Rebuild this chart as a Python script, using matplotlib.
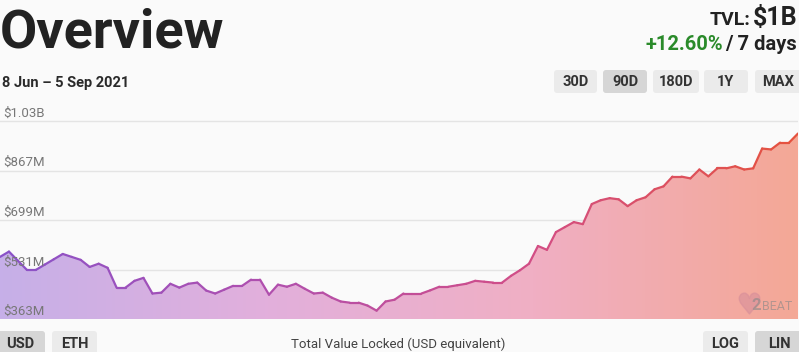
import numpy as np
import matplotlib.pyplot as plt
from matplotlib.collections import LineCollection
from matplotlib.colors import LinearSegmentedColormap
from matplotlib.patches import FancyBboxPatch, Polygon

plt.rcParams['font.family'] = ['Roboto', 'DejaVu Sans']

# TVL in million USD, one value per day, 8 Jun - 5 Sep 2021
tvl = [575, 593, 562, 531, 531, 549, 567, 585, 575, 565,
       541, 552, 538, 471, 471, 494, 504, 451, 454, 484,
       471, 484, 488, 461, 451, 464, 477, 477, 498, 498,
       447, 481, 474, 484, 467, 451, 454, 437, 424, 420,
       420, 410, 393, 424, 430, 451, 451, 451, 462, 474,
       474, 479, 484, 494, 491, 488, 488, 511, 530, 552,
       612, 599, 659, 676, 693, 686, 754, 767, 774, 770,
       747, 767, 777, 804, 814, 847, 847, 841, 871, 848,
       875, 875, 882, 871, 875, 942, 939, 962, 962, 993]
days = np.arange(len(tvl))

tick_vals = [363, 531, 699, 867, 1035]
tick_labels = ['$363M', '$531M', '$699M', '$867M', '$1.03B']

ranges = ['30D', '90D', '180D', '1Y', 'MAX']
range_sel = '90D'
units = ['USD', 'ETH']
scales = ['LOG', 'LIN']

W, H = 799, 352
fig = plt.figure(figsize=(W / 100, H / 100), dpi=100)
fig.patch.set_facecolor('#fafafa')

# chart area
ax = fig.add_axes([0, (H - 319.5) / H, 798 / W, 214.5 / H])
ax.set_facecolor('none')
ymin, ymax = 363, 363 + (319.5 - 105) / 49.6 * 168
ax.set_xlim(0, days[-1])
ax.set_ylim(ymin, ymax)
for s in ax.spines.values():
    s.set_visible(False)
ax.set_xticks([])
ax.set_yticks([])

for v in tick_vals[1:]:
    ax.axhline(v, color='#e4e4e4', lw=1, zorder=0)

# gradient fill under the line
fill_cmap = LinearSegmentedColormap.from_list(
    'fill', ['#c6afe8', '#e2afdc', '#f0afc4', '#f4a896'])
grad = np.linspace(0, 1, 256).reshape(1, -1)
img = ax.imshow(grad, cmap=fill_cmap, aspect='auto', zorder=1,
                extent=[0, days[-1], ymin, ymax], origin='lower')
poly = Polygon(np.column_stack([np.r_[days, days[-1], 0],
                                np.r_[tvl, ymin, ymin]]),
               closed=True, transform=ax.transData)
img.set_clip_path(poly)

# gradient line
line_cmap = LinearSegmentedColormap.from_list(
    'line', ['#8a52c8', '#b04fae', '#d24e86', '#e5523e'])
pts = np.column_stack([days, tvl]).reshape(-1, 1, 2)
segs = np.concatenate([pts[:-1], pts[1:]], axis=1)
lc = LineCollection(segs, cmap=line_cmap, linewidths=1.6, zorder=3,
                    capstyle='round', joinstyle='round')
lc.set_array(days[:-1] / days[-1])
ax.add_collection(lc)

for v, lab in zip(tick_vals, tick_labels):
    ax.annotate(lab, (0, v), xytext=(2, 1), textcoords='offset points',
                ha='left', va='bottom', fontsize=9.5, color='#777777', zorder=4)

# overlay in pixel coordinates for titles and buttons
ov = fig.add_axes([0, 0, 1, 1])
ov.set_xlim(0, W)
ov.set_ylim(H, 0)
ov.axis('off')
ov.set_facecolor('none')

ov.text(0, 48, 'Overview', fontsize=39, fontweight='bold', color='#222222',
        ha='left', va='baseline')
ov.text(2, 87, '8 Jun \u2013 5 Sep 2021', fontsize=10.5, fontweight='bold',
        color='#2a2a2a', ha='left', va='baseline')

ov.text(797, 25, '$1B', fontsize=18, fontweight='bold', color='#222222',
        ha='right', va='baseline')
ov.text(750, 25, 'TVL:', fontsize=14, fontweight='bold', color='#222222',
        ha='right', va='baseline')
ov.text(797, 50, '/ 7 days', fontsize=14.5, fontweight='bold', color='#222222',
        ha='right', va='baseline')
ov.text(723, 50, '+12.60%', fontsize=14.5, fontweight='bold', color='#2a8a2a',
        ha='right', va='baseline')


def button(x0, x1, y0, y1, label, selected=False):
    box = FancyBboxPatch((x0 + 3, y0 + 3), x1 - x0 - 6, y1 - y0 - 6,
                         boxstyle='round,pad=3',
                         fc='#d6d6d6' if selected else '#ebebeb', ec='none')
    ov.add_patch(box)
    ov.text((x0 + x1) / 2, (y0 + y1) / 2 + 1, label, fontsize=10.5,
            fontweight='bold', color='#333333', ha='center', va='center')


range_x = [(554, 597), (603, 647), (653, 699), (704, 748), (755, 802)]
for (x0, x1), lab in zip(range_x, ranges):
    button(x0, x1, 70, 93, lab, lab == range_sel)

button(-4, 45, 331, 356, units[0], True)
button(52, 97, 331, 356, units[1])
button(703, 748, 331, 356, scales[0])
button(755, 803, 331, 356, scales[1], True)

ov.text(398, 344, 'Total Value Locked (USD equivalent)', fontsize=9.5,
        color='#444444', ha='center', va='center')

# watermark: heart mark + "2" + "BEAT"
ov.plot([749], [303], marker='$\u2665$', markersize=15, color='#d88f9a',
        alpha=0.6, linestyle='none')
ov.text(756, 306, '2', fontsize=12, fontweight='bold', color='#888888',
        alpha=0.6, ha='center', va='center')
ov.text(762, 306, 'BEAT', fontsize=9, color='#888888', alpha=0.6,
        ha='left', va='center')

fig.savefig('out.png', dpi=100, facecolor=fig.get_facecolor())
